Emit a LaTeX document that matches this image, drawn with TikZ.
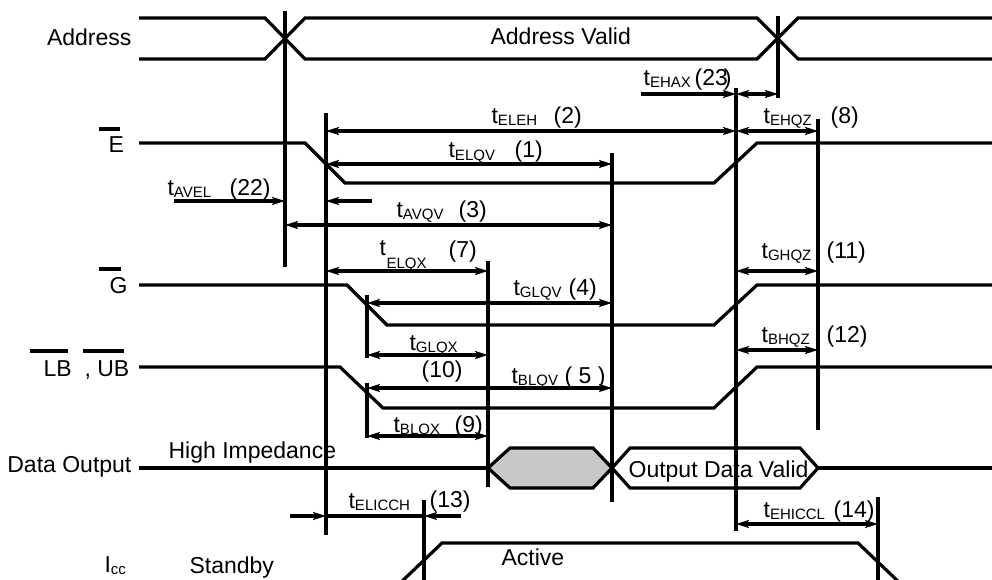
\documentclass[tikz,border=0pt]{standalone}
\usepackage{fontspec}
\setmainfont{Liberation Sans}
\usetikzlibrary{arrows.meta}
% timing symbol: t with a lowered subscript
\newcommand\tsig[1]{t\raisebox{-2pt}{\fontsize{15}{15}\selectfont #1}}
\begin{document}
\begin{tikzpicture}[x=1pt,y=-1pt,line width=3.2pt,
  >={Stealth[length=13pt,width=8pt,inset=3pt]},
  sig/.style={line width=3.2pt},
  tick/.style={line width=3.2pt},
  dimline/.style={line width=3.2pt},
  bar/.style={line width=3.2pt},
  lbl/.style={font=\fontsize{23}{26}\selectfont, inner sep=0pt, anchor=base west},
  lblr/.style={font=\fontsize{23}{26}\selectfont, inner sep=0pt, anchor=base east},
  subl/.style={font=\fontsize{15}{15}\selectfont, inner sep=0pt, anchor=base west}]
\useasboundingbox (0,0) rectangle (992,580);

% ---------- signal names ----------
\node[lblr] (addr) at (133,46) {Address};
\node[lbl] (eb) at (107,153) {E};
\draw[bar] (99,129) -- (120,129);
\node[lbl] (gb) at (108,293) {G};
\draw[bar] (99,269) -- (121,269);
\node[lbl] (lb) at (42,376) {LB};
\node[lbl] (ub) at (83,376) {, UB};
\draw[bar] (30,351) -- (68,351);
\draw[bar] (83,351) -- (124,351);
\node[lblr] (dout) at (133,472) {Data Output};
\node[lbl] (icc) at (103,572) {I\raisebox{-2pt}{\fontsize{15}{15}\selectfont cc}};

% ---------- waveforms ----------
\draw[sig] (139,18) -- (265,18) -- (305,59) -- (757,59) -- (798,18) -- (992,18);
\draw[sig] (139,59) -- (265,59) -- (305,18) -- (757,18) -- (798,59) -- (992,59);
\node[lbl] (av) at (489,45) {Address Valid};

\draw[sig] (139,143) -- (305,143) -- (345,183) -- (714,183) -- (757,143) -- (992,143);
\draw[sig] (139,285) -- (347,285) -- (387,325) -- (714,325) -- (757,285) -- (992,285);
\draw[sig] (139,367) -- (340,367) -- (383,408) -- (714,408) -- (757,367) -- (992,367);

\draw[sig] (139,468) -- (488,468);
\draw[sig, fill={rgb,255:red,200;green,200;blue,200}]
  (488,468) -- (510,448) -- (593,448) -- (612,468) -- (593,488) -- (510,488) -- cycle;
\draw[sig] (612,468) -- (630,448) -- (800,448) -- (818,468) -- (800,488) -- (630,488) -- cycle;
\draw[sig] (818,468) -- (992,468);
\node[lbl] (hiz) at (167,458) {High Impedance};
\node[lbl] (odv) at (627,477) {Output Data Valid};

\draw[sig] (397,586) -- (442,543) -- (858,543) -- (903,586);
\node[lbl] (stby) at (188,573) {Standby};
\node[lbl] (act) at (500,565) {Active};

% ---------- reference edges ----------
\draw[tick] (285,11) -- (285,267);
\draw[tick] (778,16) -- (778,98);
\draw[tick] (326,113) -- (326,535);
\draw[tick] (736,88) -- (736,531);
\draw[tick] (818,119) -- (818,430);
\draw[tick] (612,153) -- (612,502);
\draw[tick] (488,261) -- (488,487);
\draw[tick] (367,295) -- (367,358);
\draw[tick] (367,383) -- (367,438);
\draw[tick] (424,500) -- (424,586);
\draw[tick] (878,497) -- (878,586);

% ---------- timing parameters ----------
\draw[dimline,->] (641,94) -- (736,94);
\draw[dimline,<->] (736,94) -- (778,94);
\node[lbl] (t23) at (642,86) {\tsig{EHAX}};
\node[lbl] (n23) at (693,86) {(23\kern-4pt)};

\draw[dimline,<->] (326,131) -- (736,131);
\node[lbl] (t2) at (490,124) {\tsig{ELEH}};
\node[lbl] (n2) at (552,124) {(2)};

\draw[dimline,<->] (736,131) -- (818,131);
\node[lbl] (t8) at (762,124) {\tsig{EHQZ}};
\node[lbl] (n8) at (829,124) {(8)};

\draw[dimline,<->] (326,164) -- (612,164);
\node[lbl] (t1) at (447,158) {\tsig{ELQV}};
\node[lbl] (n1) at (513,158) {(1)};

\draw[dimline,->] (174,201) -- (285,201);
\draw[dimline,->] (372,201) -- (326,201);
\node[lbl] (t22) at (166,195) {\tsig{AVEL}};
\node[lbl] (n22) at (228,195) {(22)};

\draw[dimline,<->] (285,225) -- (612,225);
\node[lbl] (t3) at (395,217) {\tsig{AVQV}};
\node[lbl] (n3) at (457,217) {(3)};

\draw[dimline,<->] (326,271) -- (488,271);
\node[lbl] (t7) at (378,255) {t};
\node[subl] (s7) at (385,268) {ELQX};
\node[lbl] (n7) at (447,257) {(7)};

\draw[dimline,<->] (736,271) -- (818,271);
\node[lbl] (t11) at (760,258) {\tsig{GHQZ}};
\node[lbl] (n11) at (825,258) {(11)};

\draw[dimline,<->] (367,303) -- (612,303);
\node[lbl] (t4) at (512,295) {\tsig{GLQV}};
\node[lbl] (n4) at (567,295) {(4)};

\draw[dimline,<->] (736,350) -- (818,350);
\node[lbl] (t12) at (760,342) {\tsig{BHQZ}};
\node[lbl] (n12) at (825,342) {(12)};

\draw[dimline,<->] (367,355) -- (488,355);
\node[lbl] (t10) at (408,350) {\tsig{GLQX}};
\node[lbl] (n10) at (420,377) {(10)};

\draw[dimline,<->] (367,388) -- (612,388);
\node[lbl] (t5) at (510,383) {\tsig{BLQV}};
\node[lbl] (n5) at (563,383) {( 5 )};

\draw[dimline,<->] (367,436) -- (488,436);
\node[lbl] (t9) at (392,432) {\tsig{BLQX}};
\node[lbl] (n9) at (453,432) {(9)};

\draw[dimline,->] (290,516) -- (326,516);
\draw[dimline] (326,516) -- (424,516);
\draw[dimline,->] (461,516) -- (424,516);
\node[lbl] (t13) at (347,508) {\tsig{ELICCH}};
\node[lbl] (n13) at (428,507) {(13)};

\draw[dimline,<->] (736,524) -- (878,524);
\node[lbl] (t14) at (762,517) {\tsig{EHICCL}};
\node[lbl] (n14) at (832,517) {(14)};
\end{tikzpicture}
\end{document}
